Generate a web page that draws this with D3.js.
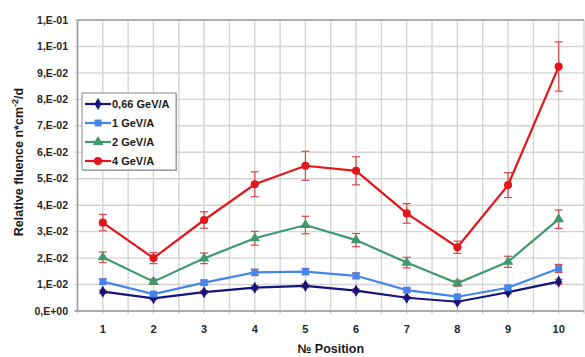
<!DOCTYPE html>
<html>
<head>
<meta charset="utf-8">
<script src="https://cdn.jsdelivr.net/npm/d3@7"></script>
<style>
  body { margin: 0; background: #fff; }
  svg { display: block; font-family: "Liberation Sans", Arial, sans-serif; }
  .grid line { stroke: #d4d4d4; stroke-width: 1.4; }
  .tick-label { font-weight: bold; fill: #262626; font-size: 11px; }
</style>
</head>
<body>
<div id="chart"></div>
<script>
// ... chart values
const positions = [1, 2, 3, 4, 5, 6, 7, 8, 9, 10];
const seriesNames = ['0,66 GeV/A', '1 GeV/A', '2 GeV/A', '4 GeV/A'];

const fluence066 = [0.0073, 0.0048, 0.0071, 0.0088, 0.0095, 0.0077, 0.0050, 0.0035, 0.0071, 0.0111];
const fluence1 = [0.0111, 0.0064, 0.0107, 0.0146, 0.0149, 0.0133, 0.0079, 0.0054, 0.0088, 0.0161];
const fluence2 = [0.0203, 0.0111, 0.0199, 0.0275, 0.0325, 0.0268, 0.0183, 0.0105, 0.0186, 0.0347];
const fluence4 = [0.0334, 0.0200, 0.0344, 0.0479, 0.0549, 0.0530, 0.0369, 0.0241, 0.0476, 0.0924];

const err066 = [0.0006, 0.0005, 0.0006, 0.0007, 0.0007, 0.0006, 0.0005, 0.0004, 0.0006, 0.0009];
const err1 = [0.0010, 0.0006, 0.0009, 0.0012, 0.0012, 0.0011, 0.0007, 0.0005, 0.0008, 0.0015];
const err2 = [0.0020, 0.0010, 0.0020, 0.0026, 0.0033, 0.0025, 0.0020, 0.0011, 0.0021, 0.0035];
const err4 = [0.0031, 0.0021, 0.0031, 0.0047, 0.0055, 0.0053, 0.0037, 0.0023, 0.0047, 0.0093];

const yTicks = [0, 0.01, 0.02, 0.03, 0.04, 0.05, 0.06, 0.07, 0.08, 0.09, 0.10, 0.11];
const yTickLabels = ['0,E+00', '1,E-02', '2,E-02', '3,E-02', '4,E-02', '5,E-02',
                     '6,E-02', '7,E-02', '8,E-02', '9,E-02', '1,E-01', '1,E-01'];

const colors = ['#14147a', '#4485ee', '#3d9a6c', '#e3161b'];
const symbols = [d3.symbolDiamond, d3.symbolSquare, d3.symbolTriangle, d3.symbolCircle];
const symbolSizes = [42, 48, 48, 52];
const values = [fluence066, fluence1, fluence2, fluence4];
const errors = [err066, err1, err2, err4];

// ... static chart area
const W = 585, H = 357;
const plot = {left: 77.5, right: 584, top: 20, bottom: 311};

const svg = d3.select('#chart').append('svg')
    .attr('width', W)
    .attr('height', H);

const x = d3.scaleLinear()
    .domain([0.5, 10.5])
    .range([plot.left, plot.right]);

const y = d3.scaleLinear()
    .domain([0, 0.11])
    .range([plot.bottom, plot.top]);

// ... gridlines (at categories and between them)
const xGrid = d3.range(0.5, 10.6, 0.5);
const grid = svg.append('g').attr('class', 'grid');

grid.selectAll('.vg')
    .data(xGrid)
    .enter().append('line')
    .attr('x1', d => x(d)).attr('x2', d => x(d))
    .attr('y1', plot.top).attr('y2', plot.bottom + 3);

grid.selectAll('.hg')
    .data(yTicks)
    .enter().append('line')
    .attr('x1', plot.left - 3).attr('x2', plot.right)
    .attr('y1', d => y(d)).attr('y2', d => y(d));

// ... frame
svg.append('line')
    .attr('x1', plot.left).attr('x2', plot.right)
    .attr('y1', plot.top).attr('y2', plot.top)
    .attr('stroke', '#a0a0a0').attr('stroke-width', 1.5);
svg.append('line')
    .attr('x1', plot.left).attr('x2', plot.left)
    .attr('y1', plot.top).attr('y2', plot.bottom)
    .attr('stroke', '#9a9a9a').attr('stroke-width', 1.5);
svg.append('line')
    .attr('x1', plot.left - 3).attr('x2', plot.right)
    .attr('y1', plot.bottom).attr('y2', plot.bottom)
    .attr('stroke', '#9a9a9a').attr('stroke-width', 1.5);

// ... axes labels
svg.append('g').selectAll('text')
    .data(yTicks)
    .enter().append('text')
    .attr('class', 'tick-label')
    .attr('x', 68)
    .attr('y', d => y(d))
    .attr('dy', '0.35em')
    .attr('text-anchor', 'end')
    .style('font-size', '10.5px')
    .text((d, i) => yTickLabels[i]);

svg.append('g').selectAll('text')
    .data(positions)
    .enter().append('text')
    .attr('class', 'tick-label')
    .attr('x', d => x(d))
    .attr('y', 333)
    .attr('text-anchor', 'middle')
    .text(d => d);

svg.append('text')
    .attr('x', x(5.5))
    .attr('y', 353)
    .attr('text-anchor', 'middle')
    .style('font-weight', 'bold')
    .style('font-size', '12.5px')
    .attr('fill', '#1a1a1a')
    .text('№ Position');

const yTitle = svg.append('text')
    .attr('transform', 'translate(23,' + 162 + ') rotate(-90)')
    .attr('text-anchor', 'middle')
    .style('font-weight', 'bold')
    .style('font-size', '12.5px')
    .attr('fill', '#1a1a1a');
yTitle.append('tspan').text('Relative fluence  n*cm');
yTitle.append('tspan').attr('dy', -5).style('font-size', '9px').text('-2');
yTitle.append('tspan').attr('dy', 5).text('/d');

// ... series: error bars, lines, markers
const line = d3.line()
    .x((d, i) => x(positions[i]))
    .y(d => y(d));

values.forEach((vals, s) => {
    const g = svg.append('g');
    const eb = g.append('g')
        .attr('stroke', '#d5494b')
        .attr('stroke-width', 1.2);
    vals.forEach((v, i) => {
        const e = errors[s][i];
        const cx = x(positions[i]);
        eb.append('line')
            .attr('x1', cx).attr('x2', cx)
            .attr('y1', y(v - e)).attr('y2', y(v + e));
        eb.append('line')
            .attr('x1', cx - 4).attr('x2', cx + 4)
            .attr('y1', y(v - e)).attr('y2', y(v - e));
        eb.append('line')
            .attr('x1', cx - 4).attr('x2', cx + 4)
            .attr('y1', y(v + e)).attr('y2', y(v + e));
    });

    g.append('path')
        .datum(vals)
        .attr('fill', 'none')
        .attr('stroke', colors[s])
        .attr('stroke-width', 2.2)
        .attr('d', line);

    g.selectAll('.pt')
        .data(vals)
        .enter().append('path')
        .attr('transform', (d, i) => 'translate(' + x(positions[i]) + ',' + y(d) + ')')
        .attr('fill', colors[s])
        .attr('d', d3.symbol().type(symbols[s]).size(symbolSizes[s]));
});

// ... legend
const legend = svg.append('g');
legend.append('rect')
    .attr('x', 83).attr('y', 94)
    .attr('width', 94).attr('height', 77)
    .attr('fill', '#b0b0b0');
legend.append('rect')
    .attr('x', 82).attr('y', 93)
    .attr('width', 94).attr('height', 77)
    .attr('fill', '#fff')
    .attr('stroke', '#8c8c8c')
    .attr('stroke-width', 1);

seriesNames.forEach((name, s) => {
    const ly = 104 + s * 19;
    legend.append('line')
        .attr('x1', 85).attr('x2', 111)
        .attr('y1', ly).attr('y2', ly)
        .attr('stroke', colors[s])
        .attr('stroke-width', 2.2);
    legend.append('path')
        .attr('transform', 'translate(98,' + ly + ')')
        .attr('fill', colors[s])
        .attr('d', d3.symbol().type(symbols[s]).size(symbolSizes[s]));
    legend.append('text')
        .attr('x', 112)
        .attr('y', ly)
        .attr('dy', '0.36em')
        .style('font-weight', 'bold')
        .style('font-size', '11px')
        .attr('fill', '#1a1a1a')
        .text(name);
});
</script>
</body>
</html>
